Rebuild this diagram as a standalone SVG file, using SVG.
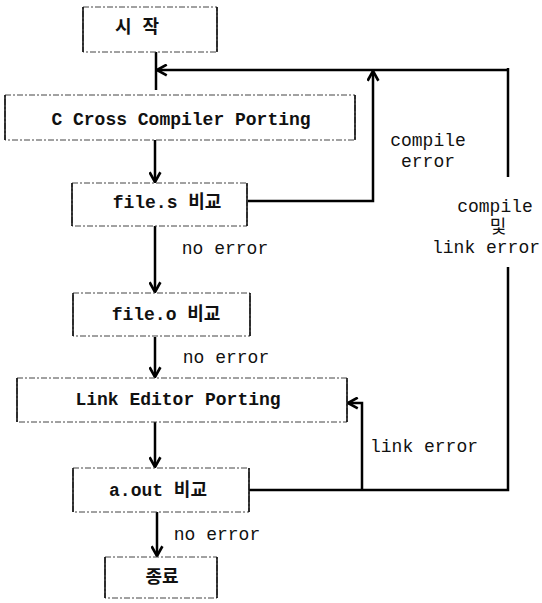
<svg xmlns="http://www.w3.org/2000/svg" width="542" height="603" viewBox="0 0 542 603">
<defs>
<style>
.box{fill:#fff;stroke:#444;stroke-width:1;stroke-dasharray:6 2 2 2}
.side{stroke:#111;stroke-width:1.6;fill:none}
.lbl{font-family:"Liberation Mono","Noto Sans CJK KR",monospace;font-size:18px;font-weight:bold;fill:#111;text-anchor:middle}
.el{font-family:"Liberation Mono","Noto Sans CJK KR",monospace;font-size:18px;fill:#111;text-anchor:middle}
.cn{fill:none;stroke:#000;stroke-width:2.5}
</style>
<marker id="ah" viewBox="0 0 12 12" refX="11" refY="6" markerWidth="13" markerHeight="13" orient="auto" markerUnits="userSpaceOnUse">
<path d="M2,1 L11,6 L2,11" fill="none" stroke="#000" stroke-width="2.4"/>
</marker>
</defs>
<rect width="542" height="603" fill="#fff"/>

<g id="connectors">
<path class="cn" d="M156,52 V90"/>
<path class="cn" d="M508,70 H157" marker-end="url(#ah)"/>
<path class="cn" d="M508,68 V177"/>
<path class="cn" d="M508,267 V490 H249"/>
<path class="cn" d="M248,201 H373 V71" marker-end="url(#ah)"/>
<path class="cn" d="M155,140 V182" marker-end="url(#ah)"/>
<path class="cn" d="M155,226 V292" marker-end="url(#ah)"/>
<path class="cn" d="M155,337 V377" marker-end="url(#ah)"/>
<path class="cn" d="M155,422 V467" marker-end="url(#ah)"/>
<path class="cn" d="M157,512 V556" marker-end="url(#ah)"/>
<path class="cn" d="M362,490 V403 H348" marker-end="url(#ah)"/>
<text class="el" x="428" y="146">compile</text>
<text class="el" x="428" y="167">error</text>
<text class="el" x="495" y="212">compile</text>
<text class="el" x="498" y="233">및</text>
<text class="el" x="486" y="253">link error</text>
<text class="el" x="225" y="254">no error</text>
<text class="el" x="226" y="363">no error</text>
<text class="el" x="424" y="452">link error</text>
<text class="el" x="217" y="540">no error</text>
</g>

<g id="start">
<rect class="box" x="83" y="7" width="134" height="45"/>
<path class="side" d="M83,7 V52 M217,7 V52"/>
<text class="lbl" x="137" y="33">시 작</text>
</g>

<g id="cross-compiler">
<rect class="box" x="5" y="95" width="350" height="45"/>
<path class="side" d="M5,95 V140 M355,95 V140"/>
<text class="lbl" x="181" y="125">C Cross Compiler Porting</text>
</g>

<g id="file-s">
<rect class="box" x="72" y="183" width="175" height="43"/>
<path class="side" d="M72,183 V226 M247,183 V226"/>
<text class="lbl" x="167" y="208">file.s 비교</text>
</g>

<g id="file-o">
<rect class="box" x="73" y="293" width="177" height="43"/>
<path class="side" d="M73,293 V336 M250,293 V336"/>
<text class="lbl" x="166" y="320">file.o 비교</text>
</g>

<g id="link-editor">
<rect class="box" x="17" y="378" width="330" height="44"/>
<path class="side" d="M17,378 V422 M347,378 V422"/>
<text class="lbl" x="178" y="405">Link Editor Porting</text>
</g>

<g id="a-out">
<rect class="box" x="73" y="468" width="176" height="44"/>
<path class="side" d="M73,468 V512 M249,468 V512"/>
<text class="lbl" x="158" y="496">a.out 비교</text>
</g>

<g id="end">
<rect class="box" x="105" y="557" width="112" height="41"/>
<path class="side" d="M105,557 V598 M217,557 V598"/>
<text class="lbl" x="162" y="583">종료</text>
</g>
</svg>
